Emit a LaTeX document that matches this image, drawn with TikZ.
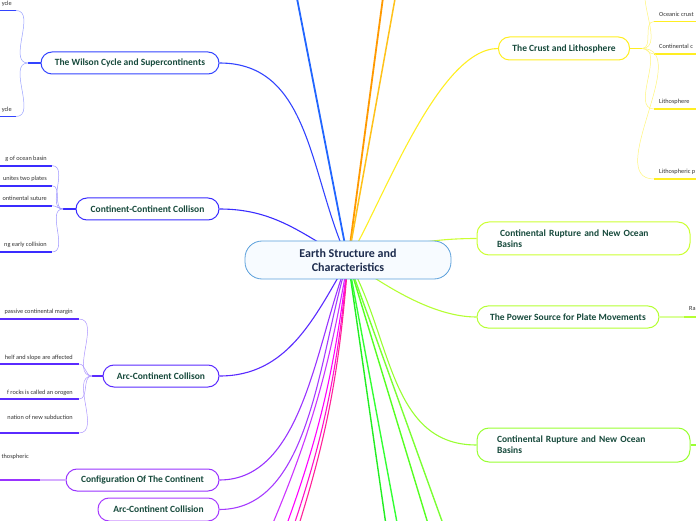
\documentclass[tikz,border=0pt]{standalone}
\usepackage{fontspec}
\setmainfont{Carlito}

\definecolor{topicgreen}{HTML}{174A3C}
\definecolor{centernavy}{HTML}{1C2B4D}
\definecolor{centerblue}{HTML}{5A9FDB}
\definecolor{centerfill}{HTML}{F7FBFF}
\definecolor{subgray}{HTML}{333333}
\definecolor{topblue}{HTML}{2266FF}
\definecolor{wilsonblue}{HTML}{3344FF}
\definecolor{ccblue}{HTML}{3A2CFF}
\definecolor{accviolet}{HTML}{5A2BFF}
\definecolor{configpurple}{HTML}{9933FF}
\definecolor{acnpurple}{HTML}{A63BFF}
\definecolor{orangeone}{HTML}{FF9900}
\definecolor{orangetwo}{HTML}{FFC21A}
\definecolor{crustyellow}{HTML}{FFEE22}
\definecolor{rupAgreen}{HTML}{CCFF33}
\definecolor{powerlime}{HTML}{B5FF33}
\definecolor{rupBgreen}{HTML}{99FF33}
\definecolor{greenone}{HTML}{22EE22}
\definecolor{greentwo}{HTML}{33FF33}
\definecolor{greenthree}{HTML}{55FF22}
\definecolor{greenfour}{HTML}{7AFF33}
\definecolor{magone}{HTML}{CC33FF}
\definecolor{magtwo}{HTML}{FF00FF}
\definecolor{magthree}{HTML}{FF11CC}
\definecolor{magfour}{HTML}{FF2299}

\begin{document}
\begin{tikzpicture}[x=1pt, y=1pt,
    topic/.style={draw, line width=1pt, rounded corners=11pt, fill=white, text=topicgreen,
        font=\bfseries\fontsize{9.5}{11}\selectfont, minimum height=22pt, inner sep=0pt},
    subtext/.style={text=subgray, font=\fontsize{6.3}{7.5}\selectfont, inner sep=0pt},
    twig/.style={line width=0.5pt},
    bar/.style={line width=1.7pt},
    link/.style={line width=1.1pt}]

    \useasboundingbox (0,0) rectangle (696,520);
    \coordinate (hub) at (348,260);

    \node [topic, draw=wilsonblue, minimum width=178pt] (wilson) at (130,457) {The Wilson Cycle and Supercontinents};
    \coordinate (wilsonj) at (28,457);
    \draw [link, wilsonblue] (wilson.west) -- (wilsonj);
    \foreach \i/\y in {1/509.5, 2/403.5}
    {
        \coordinate (wilsons\i) at (16,\y);
        \draw [bar, wilsonblue] (0,\y) -- (wilsons\i);
        \node [subtext, anchor=base east] (wilsont\i) at (12,\y+5) {ycle};
        \draw [twig, wilsonblue!50] (wilsons\i) to[out=0, in=180] (wilsonj);
    }

    \node [topic, draw=ccblue, minimum width=143pt] (cc) at (147.5,311) {Continent-Continent Collison};
    \coordinate (ccj) at (63,311);
    \draw [link, ccblue] (cc.west) -- (ccj);
    \foreach \i/\y/\txt in {1/354.3/g of ocean basin, 2/334.3/unites two plates, 3/314.3/ontinental suture, 4/268/ng early collision}
    {
        \coordinate (ccs\i) at (52,\y);
        \draw [bar, ccblue] (0,\y) -- (ccs\i);
        \node [subtext, anchor=base east] (cct\i) at (47,\y+5) {\txt};
        \draw [twig, ccblue!50] (ccs\i) to[out=0, in=180] (ccj);
    }

    \node [topic, draw=accviolet, minimum width=116pt] (acc) at (161,144) {Arc-Continent Collison};
    \coordinate (accj) at (92,144);
    \draw [link, accviolet] (acc.west) -- (accj);
    \foreach \i/\y/\d/\txt in {1/201/5/passive continental margin, 2/156/5/helf and slope are affected, 3/121/5/f rocks is called an orogen, 4/87/14/nation of new subduction}
    {
        \coordinate (accs\i) at (79,\y);
        \draw [bar, accviolet] (0,\y) -- (accs\i);
        \node [subtext, anchor=base east] (acct\i) at (73,\y+\d) {\txt};
        \draw [twig, accviolet!50] (accs\i) to[out=0, in=180] (accj);
    }

    \node [topic, draw=configpurple, minimum width=153pt] (config) at (142.5,40) {Configuration Of The Continent};
    \coordinate (configs) at (40,40);
    \draw [configpurple!40, line width=1.2pt] (config.west) -- (configs);
    \draw [bar, configpurple] (0,40) -- (configs);
    \node [subtext, anchor=base east] (configt) at (29,62) {thospheric};

    \node [topic, draw=acnpurple, minimum width=121pt, minimum height=23pt] (acn) at (158.5,10.5) {Arc-Continent Collision};

    \node [topic, draw=crustyellow, minimum width=131pt, minimum height=23pt] (crust) at (564,471.5) {The Crust and Lithosphere};
    \coordinate (crustj) at (642,471.5);
    \draw [link, crustyellow, line width=1.6pt] (crust.east) -- (crustj);
    \coordinate (crusts0) at (654,536);
    \draw [twig, crustyellow!60] (crustj) to[out=0, in=180] (crusts0);
    \foreach \i/\y/\txt in {1/498.5/Oceanic crust, 2/466/Continental c, 3/411/Lithosphere, 4/341/Lithospheric p}
    {
        \coordinate (crusts\i) at (654,\y);
        \draw [bar, crustyellow] (crusts\i) -- (700,\y);
        \node [subtext, anchor=base west] (crustt\i) at (659,\y+5) {\txt};
        \draw [twig, crustyellow!60] (crustj) to[out=0, in=180] (crusts\i);
    }

    \node [topic, draw=rupAgreen, rounded corners=12pt, minimum width=213pt, minimum height=33pt, text width=173pt, align=left] (rupA) at (583.5,281.5) {\ Continental Rupture and New Ocean\\Basins};

    \node [topic, draw=powerlime, minimum width=182pt] (power) at (568,203) {The Power Source for Plate Movements};
    \coordinate (powers) at (684,203);
    \draw [powerlime!50, line width=1pt] (power.east) -- (powers);
    \draw [bar, powerlime] (powers) -- (700,203);
    \node [subtext, anchor=base west] (powert) at (689,209) {Ra};

    \node [topic, draw=rupBgreen, rounded corners=12pt, minimum width=213pt, minimum height=34pt, text width=173pt, align=left] (rupB) at (583.5,75) {Continental Rupture and New Ocean\\Basins};
    \coordinate (rupBj) at (710,75);
    \draw [link, rupBgreen, line width=1.5pt] (rupB.east) -- (rupBj);

    \coordinate (up1) at (289.5,560);
    \coordinate (up2) at (388,560);
    \coordinate (up3) at (402,560);
    \draw [topblue, line width=1.8pt] (hub) -- (up1);
    \draw [orangeone, line width=1.8pt] (hub) -- (up2);
    \draw [orangetwo, line width=1.5pt] (hub) -- (up3);

    \foreach \c/\x [count=\i] in {greenone/391, greentwo/404, greenthree/439, greenfour/456}
    {
        \coordinate (down\i) at (\x,-40);
        \draw [\c, line width=1.4pt] (hub) -- (down\i);
    }
    \foreach \c/\x [count=\i] in {magone/257, magtwo/273.5, magthree/282, magfour/287.5}
    {
        \coordinate (low\i) at (\x,-40);
        \draw [link, \c] (hub) to[bend left=7] (low\i);
    }

    \draw [link, wilsonblue] (hub) to[out=115, in=0] (wilson.east);
    \draw [link, ccblue] (hub) to[out=150, in=0] (cc.east);
    \draw [link, accviolet] (hub) to[out=-120, in=0] (acc.east);
    \draw [link, configpurple] (hub) to[out=-112, in=0, looseness=0.85] (config.east);
    \draw [link, acnpurple] (hub) to[out=-108, in=0, looseness=0.85] (acn.east);
    \draw [link, crustyellow] (hub) to[out=58, in=180, looseness=0.6] (crust.west);
    \draw [link, rupAgreen] (hub) to[out=15, in=180] (rupA.west);
    \draw [link, powerlime] (hub) to[out=-35, in=180, looseness=0.8] (power.west);
    \draw [link, rupBgreen] (hub) to[out=-60, in=180] (rupB.west);

    \node [draw=centerblue, fill=centerfill, line width=0.8pt, rounded corners=17pt, minimum width=206pt, minimum height=38pt,
        align=center, text=centernavy, font=\bfseries\fontsize{12}{14}\selectfont] (earth) at (hub) {Earth Structure and\\Characteristics};
\end{tikzpicture}
\end{document}
